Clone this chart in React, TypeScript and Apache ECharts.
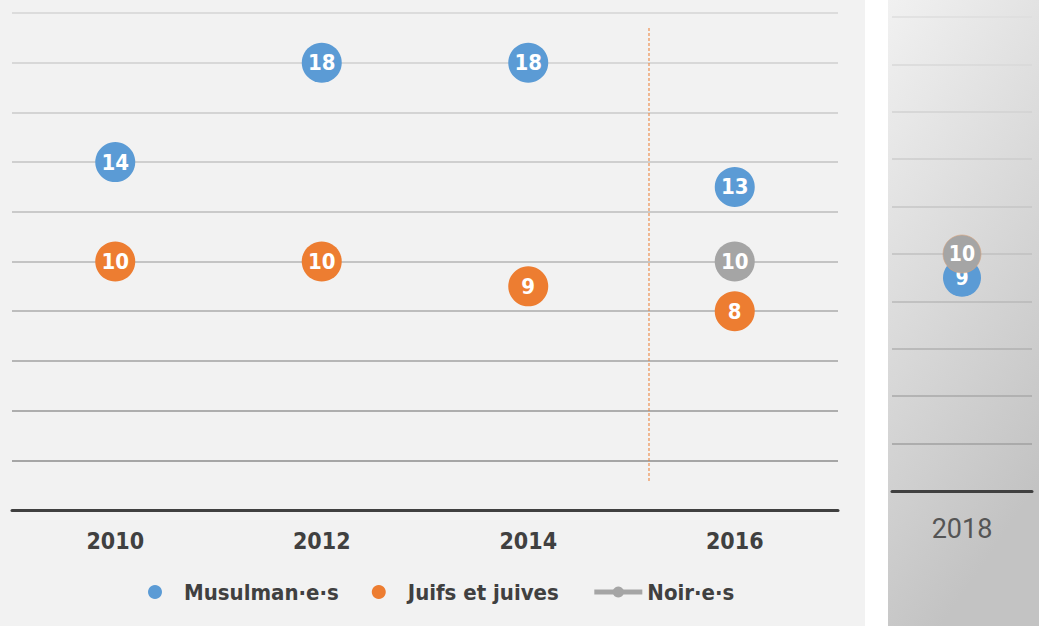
import React, { useEffect, useRef } from "react";
import * as echarts from "echarts";

const years = ["2010", "2012", "2014", "2016"];
const musulmans = [14, 18, 18, 13];
const juifs = [10, 10, 9, 8];
const noirs = [null, null, null, 10];

const years2 = ["2018"];
const musulmans2 = [9];
const noirs2 = [10];

const seriesNames = ["Musulman·e·s", "Juifs et juives", "Noir·e·s"];
const colors = ["#5b9bd5", "#ed7d31", "#a5a5a5"];

const FONT = "'DejaVu Sans Condensed', 'Liberation Sans Narrow', sans-serif";

const gridColors = [
  "#a6a6a6", "#a6a6a6", "#aeaeae", "#b6b6b6", "#bdbdbd", "#c4c4c4",
  "#cacaca", "#cfcfcf", "#d4d4d4", "#d8d8d8", "#dcdcdc",
];
const gridColors2 = [
  "#a0a0a0", "#a0a0a0", "#a8a8a8", "#b0b0b0", "#b8b8b8", "#c0c0c0",
  "#c6c6c6", "#cccccc", "#d2d2d2", "#d8d8d8", "#dedede",
];

export default function App() {
  const ref = useRef<HTMLDivElement>(null);
  useEffect(() => {
    if (!ref.current) return;
    const chart = echarts.init(ref.current, null, { renderer: "svg" });
    const label = (size: number) => ({
      show: true,
      position: "inside" as const,
      color: "#fff",
      fontFamily: FONT,
      fontWeight: "bold" as const,
      fontSize: size,
    });
    chart.setOption({
      animation: false,
      backgroundColor: "transparent",
      graphic: [
        { type: "rect", z: -10, shape: { x: 0, y: 0, width: 865, height: 626 }, style: { fill: "#f2f2f2" }, silent: true },
        {
          type: "rect", z: -10, shape: { x: 888, y: 0, width: 151, height: 626 }, silent: true,
          style: {
            fill: new echarts.graphic.LinearGradient(0, 0, 0.35, 1, [
              { offset: 0, color: "#f1f1f1" },
              { offset: 1, color: "#c3c3c3" },
            ]),
          },
        },
        {
          type: "line", z: 5, silent: true,
          shape: { x1: 649, y1: 28, x2: 649, y2: 483 },
          style: { stroke: "#ed7d31", lineWidth: 1, lineDash: [3, 2] },
        },
      ],
      legend: {
        left: 143,
        top: 576,
        itemWidth: 48,
        itemHeight: 14,
        itemGap: 33,
        data: [
          { name: seriesNames[0] },
          { name: seriesNames[1] },
          { name: seriesNames[2], lineStyle: { width: 5, color: colors[2] } },
        ],
        textStyle: { color: "#404040", fontFamily: FONT, fontWeight: "bold", fontSize: 22 },
      },
      grid: [
        { left: 12, top: 13, width: 826, height: 497 },
        { left: 892, top: 17, width: 140, height: 474 },
      ],
      xAxis: [
        {
          type: "category", gridIndex: 0, data: years,
          axisLine: { lineStyle: { color: "#404040", width: 3 } },
          axisTick: { show: false },
          axisLabel: { color: "#404040", fontFamily: FONT, fontWeight: "bold", fontSize: 23, margin: 19 },
        },
        {
          type: "category", gridIndex: 1, data: years2,
          axisLine: { lineStyle: { color: "#404040", width: 3 } },
          axisTick: { show: false },
          axisLabel: { color: "#555555", fontFamily: "Roboto, sans-serif", fontSize: 27, margin: 24 },
        },
      ],
      yAxis: [
        {
          type: "value", gridIndex: 0, min: 0, max: 20, interval: 2,
          axisLabel: { show: false }, axisLine: { show: false }, axisTick: { show: false },
          splitLine: { lineStyle: { color: gridColors, width: 2 } },
        },
        {
          type: "value", gridIndex: 1, min: 0, max: 20, interval: 2,
          axisLabel: { show: false }, axisLine: { show: false }, axisTick: { show: false },
          splitLine: { lineStyle: { color: gridColors2, width: 1.5 } },
        },
      ],
      series: [
        {
          name: seriesNames[0], type: "scatter", xAxisIndex: 0, yAxisIndex: 0,
          data: musulmans, symbol: "circle", symbolSize: 40, z: 3,
          itemStyle: { color: colors[0], opacity: 1 }, label: label(22),
        },
        {
          name: seriesNames[1], type: "scatter", xAxisIndex: 0, yAxisIndex: 0,
          data: juifs, symbol: "circle", symbolSize: 40, z: 3,
          itemStyle: { color: colors[1], opacity: 1 }, label: label(22),
        },
        {
          name: seriesNames[2], type: "line", xAxisIndex: 0, yAxisIndex: 0,
          data: noirs, symbol: "circle", symbolSize: 40, z: 3, showAllSymbol: true,
          lineStyle: { color: colors[2], width: 5 },
          itemStyle: { color: colors[2] }, label: label(22),
        },
        {
          name: seriesNames[0], type: "scatter", xAxisIndex: 1, yAxisIndex: 1,
          data: musulmans2, symbol: "circle", symbolSize: 38, z: 3,
          itemStyle: { color: colors[0], opacity: 1 }, label: label(21),
        },
        {
          name: seriesNames[2], type: "scatter", xAxisIndex: 1, yAxisIndex: 1,
          data: noirs2, symbol: "circle", symbolSize: 38, z: 4,
          itemStyle: { color: colors[2], opacity: 1, borderColor: "#d9a27c", borderWidth: 0.6 },
          label: label(21),
        },
      ],
    });
    return () => chart.dispose();
  }, []);
  return (
    <div
      ref={ref}
      style={{ position: "fixed", left: 0, top: 0, width: 1039, height: 626, background: "#ffffff" }}
    />
  );
}
